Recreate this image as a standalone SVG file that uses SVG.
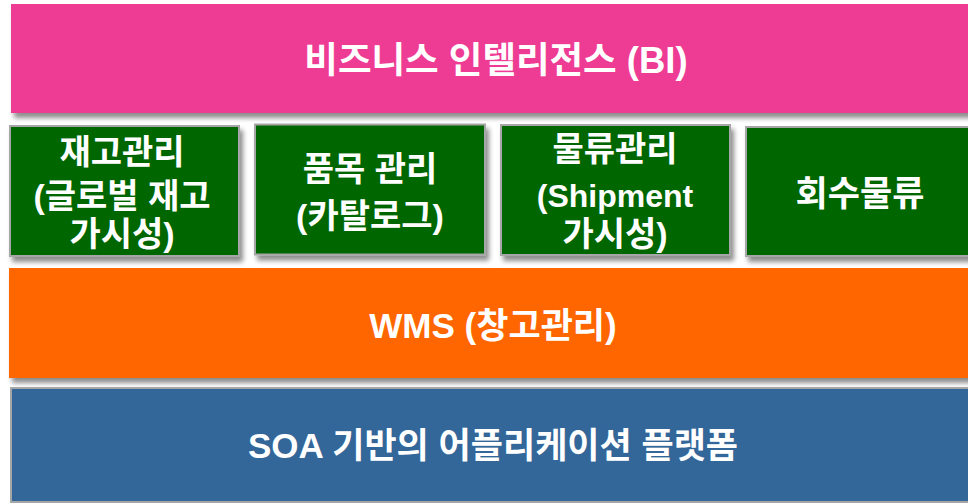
<svg xmlns="http://www.w3.org/2000/svg" width="968" height="503" viewBox="0 0 968 503">
<defs>
<filter id="sh" x="-5%" y="-10%" width="115%" height="130%">
<feGaussianBlur in="SourceAlpha" stdDeviation="2.5"/>
<feOffset dx="3" dy="5" result="b"/>
<feComponentTransfer><feFuncA type="linear" slope="0.45"/></feComponentTransfer>
<feMerge><feMergeNode/><feMergeNode in="SourceGraphic"/></feMerge>
</filter>
<style>
text{font-family:"Liberation Sans","Noto Sans CJK KR",sans-serif;font-weight:bold;fill:#fff;text-anchor:middle;font-size:35px}
.tt{font-size:36.5px}
.bt{font-size:34px}
.lat{font-size:32px}
.bx{fill:#006600;stroke:#A6A6A6;stroke-width:2}
</style>
</defs>
<rect width="968" height="503" fill="#ffffff"/>
<g id="bi">
<rect x="11" y="4" width="970" height="109" fill="#EE3A94" filter="url(#sh)"/>
<text class="tt" x="496" y="73">비즈니스 인텔리전스 (BI)</text>
</g>
<g id="inventory">
<rect class="bx" x="10" y="126" width="229" height="130" filter="url(#sh)"/>
<text class="bt" x="122" y="164">재고관리</text>
<text class="bt" x="122" y="208">(글로벌 재고</text>
<text class="bt" x="122" y="246">가시성)</text>
</g>
<g id="catalog">
<rect class="bx" x="255" y="124.5" width="230" height="130" filter="url(#sh)"/>
<text class="bt" x="370" y="181">품목 관리</text>
<text class="bt" x="370" y="228">(카탈로그)</text>
</g>
<g id="logistics">
<rect class="bx" x="501" y="125" width="229" height="130" filter="url(#sh)"/>
<text class="bt" x="615" y="161">물류관리</text>
<text class="lat" x="615" y="207">(Shipment</text>
<text class="bt" x="615" y="246">가시성)</text>
</g>
<g id="reverse">
<rect class="bx" x="746" y="127" width="240" height="129" filter="url(#sh)"/>
<text x="860" y="206">회수물류</text>
</g>
<g id="wms">
<rect x="9" y="268" width="970" height="110" fill="#FF6600" filter="url(#sh)"/>
<text x="493" y="338">WMS (창고관리)</text>
</g>
<g id="soa">
<rect x="11" y="388" width="970" height="114" fill="#336699" stroke="#A6A6A6" stroke-width="2"/>
<text x="493" y="458">SOA 기반의 어플리케이션 플랫폼</text>
</g>
<g id="connectors"></g>
</svg>
